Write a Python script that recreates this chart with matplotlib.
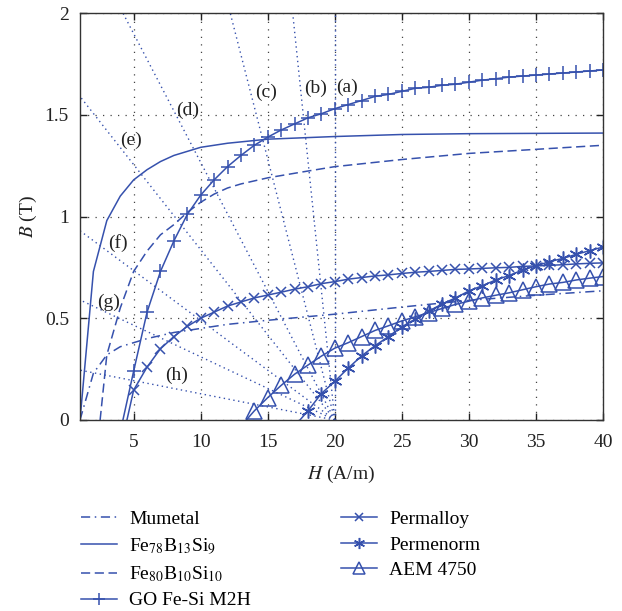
import numpy as np
import matplotlib
matplotlib.use("Agg")
import matplotlib.pyplot as plt

# B-H curves
mumetal_H = [1, 2, 3, 4, 5, 6, 8, 10, 12, 15, 20, 25, 30, 35, 40]
mumetal_B = [0, 0.23, 0.32, 0.36, 0.38, 0.40, 0.43, 0.45, 0.47, 0.49, 0.52, 0.555, 0.588, 0.613, 0.635]

fe78_H = [1, 2, 3, 4, 5, 6, 7, 8, 10, 12, 15, 20, 25, 30, 40]
fe78_B = [0, 0.73, 0.98, 1.10, 1.18, 1.23, 1.27, 1.30, 1.34, 1.36, 1.38, 1.393, 1.403, 1.407, 1.41]

fe80_H = [2.5, 3, 4, 5, 6, 7, 8, 9, 10, 11, 12, 13, 15, 17.5, 20, 25, 30, 35, 40]
fe80_B = [0, 0.32, 0.55, 0.73, 0.83, 0.91, 0.96, 1.02, 1.07, 1.11, 1.14, 1.16, 1.19, 1.218, 1.245, 1.28, 1.31, 1.33, 1.35]

go_H = [4.2] + list(range(5, 41))
go_B = [0, 0.24, 0.53, 0.73, 0.88, 1.01, 1.105, 1.18, 1.245, 1.30, 1.35, 1.39, 1.425, 1.455,
        1.485, 1.505, 1.53, 1.55, 1.57, 1.59, 1.60, 1.615, 1.63, 1.635, 1.645, 1.65, 1.66,
        1.67, 1.677, 1.685, 1.69, 1.695, 1.70, 1.705, 1.71, 1.715, 1.72]

permalloy_H = [4.5] + list(range(5, 41))
permalloy_B = [0, 0.147, 0.26, 0.35, 0.41, 0.46, 0.50, 0.53, 0.56, 0.58, 0.60, 0.614, 0.628,
               0.643, 0.655, 0.67, 0.68, 0.692, 0.70, 0.708, 0.713, 0.72, 0.726, 0.73, 0.735,
               0.74, 0.742, 0.745, 0.748, 0.75, 0.755, 0.757, 0.76, 0.763, 0.767, 0.77, 0.772]

permenorm_H = [17.4] + list(range(18, 41))
permenorm_B = [0, 0.045, 0.13, 0.19, 0.255, 0.315, 0.365, 0.41, 0.458, 0.496, 0.535, 0.57,
               0.60, 0.634, 0.66, 0.688, 0.71, 0.737, 0.757, 0.778, 0.794, 0.814, 0.832, 0.85]

aem_H = [13.4] + list(range(14, 41))
aem_B = [0, 0.045, 0.11, 0.17, 0.225, 0.27, 0.314, 0.353, 0.38, 0.41, 0.44, 0.463, 0.487,
         0.507, 0.528, 0.548, 0.568, 0.584, 0.60, 0.613, 0.625, 0.64, 0.655, 0.668, 0.676,
         0.688, 0.697, 0.705]

# load lines (a)-(h), all from (20, 0) to these end points
load_names = ["(a)", "(b)", "(c)", "(d)", "(e)", "(f)", "(g)", "(h)"]
load_H0 = 20
load_H_end = [20, 16.86, 12.2, 4.2, 1, 1, 1, 1]
load_B_end = [2, 2, 2, 2, 1.59, 0.93, 0.59, 0.245]
label_H = [20.9, 18.6, 14.9, 9.0, 4.8, 3.83, 3.16, 8.2]
label_B = [1.637, 1.63, 1.61, 1.52, 1.376, 0.87, 0.58, 0.22]

blue = "#3651ad"
plt.rcParams["font.family"] = ["Liberation Serif", "DejaVu Serif"]
plt.rcParams["mathtext.fontset"] = "stix"
plt.rcParams["font.size"] = 14

fig = plt.figure(figsize=(6.22, 6.11), dpi=100)
ax = fig.add_axes([80/622, 1-420/611, 523/622, 407/611])

for he, be in zip(load_H_end, load_B_end):
    ax.plot([load_H0, he], [0, be], color=blue, lw=1.0, linestyle=(0, (1, 2.5)))

lw = 1.1
ax.plot(mumetal_H, mumetal_B, color=blue, lw=lw, linestyle=(0, (6, 3, 1, 3)), label="Mumetal")
ax.plot(fe78_H, fe78_B, color=blue, lw=lw, label="Fe$_{78}$B$_{13}$Si$_{9}$")
ax.plot(fe80_H, fe80_B, color=blue, lw=lw, linestyle=(0, (6, 3)), label="Fe$_{80}$B$_{10}$Si$_{10}$")
ax.plot(go_H, go_B, color=blue, lw=lw, marker="+", markersize=10, markeredgewidth=1.1,
        markevery=range(1, len(go_H)), label="GO Fe-Si M2H")
ax.plot(permalloy_H, permalloy_B, color=blue, lw=lw, marker="x", markersize=7, markeredgewidth=1.1,
        markevery=range(1, len(permalloy_H)), label="Permalloy")
ax.plot(permenorm_H, permenorm_B, color=blue, lw=lw, marker=(6, 2, 0), markersize=10, markeredgewidth=1.1,
        markevery=range(1, len(permenorm_H)), label="Permenorm")
ax.plot(aem_H, aem_B, color=blue, lw=lw, marker="^", markersize=11, markerfacecolor="none",
        markeredgewidth=1.1, markevery=range(1, len(aem_H)), label="AEM 4750")

for name, x, y in zip(load_names, label_H, label_B):
    ax.text(x, y, name, ha="center", va="center", fontsize=14, color="#222222")

ax.set_xlim(1, 40)
ax.set_ylim(0, 2)
ax.set_xticks([5, 10, 15, 20, 25, 30, 35, 40])
ax.set_yticks([0, 0.5, 1, 1.5, 2])
ax.set_yticklabels(["0", "0.5", "1", "1.5", "2"])
ax.tick_params(direction="in", top=True, right=True, length=5, width=1, colors="#222222", labelsize=14)
ax.tick_params(axis="x", pad=10)
ax.tick_params(axis="y", pad=8)
ax.grid(True, color="#444444", linestyle=(0, (1, 5)), lw=0.9)
for s in ax.spines.values():
    s.set_color("#333333")
    s.set_linewidth(1.0)

ax.set_xlabel("$H$ (A/m)", fontsize=14, color="#222222", labelpad=9)
ax.set_ylabel("$B$ (T)", fontsize=14, color="#222222", labelpad=4)

leg = fig.legend(loc="upper left", bbox_to_anchor=(69/622, 1-499/611), ncol=2, frameon=False,
                 fontsize=14, handlelength=1.85, handletextpad=0.65, columnspacing=4.6, labelspacing=0.4,
                 borderaxespad=0.2, markerscale=0.8)

fig.savefig("out.png", dpi=100)
